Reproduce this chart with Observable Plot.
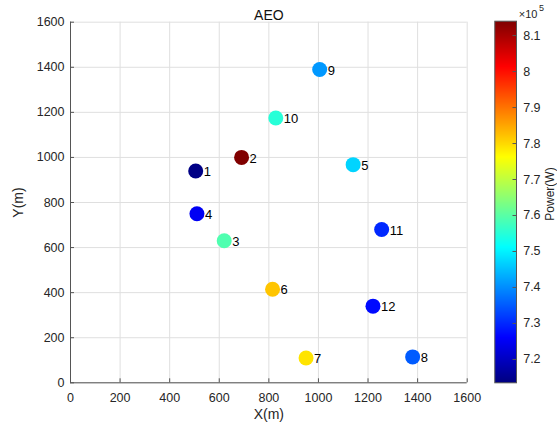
<!DOCTYPE html>
<html><head><meta charset="utf-8">
<script src="https://cdn.jsdelivr.net/npm/d3@7"></script>
<script src="https://cdn.jsdelivr.net/npm/@observablehq/plot@0.6"></script>
<style>
body{margin:0;background:#fff;}
#wrap{position:relative;width:557px;height:434px;font-family:"Liberation Sans",Arial,sans-serif;}
#wrap svg{position:absolute;left:0;top:0;overflow:visible;}
</style></head><body><div id="wrap"></div>
<script>
// ---- data ----
const ids = [1, 2, 3, 4, 5, 6, 7, 8, 9, 10, 11, 12];
const xs = [505, 690, 620, 510, 1140, 815, 950, 1380, 1005, 828, 1255, 1220];
const ys = [940, 1000, 630, 750, 968, 415, 110, 115, 1390, 1175, 680, 340];
const power = [7.14e5, 8.14e5, 7.59e5, 7.25e5, 7.47e5, 7.82e5, 7.79e5, 7.35e5, 7.41e5, 7.55e5, 7.30e5, 7.27e5];
const axisTicks = [0, 200, 400, 600, 800, 1000, 1200, 1400, 1600];
const colorTicks = [7.2e5, 7.3e5, 7.4e5, 7.5e5, 7.6e5, 7.7e5, 7.8e5, 7.9e5, 8.0e5, 8.1e5];
const powerRange = [7.135e5, 8.14e5];
const titleText = "AEO";
const xLabel = "X(m)";
const yLabel = "Y(m)";
const cbLabel = "Power(W)";

// MATLAB jet colormap
function jet(t) {
  const c = v => Math.max(0, Math.min(1, v));
  const r = c(Math.min(4 * t - 1.5, -4 * t + 4.5));
  const g = c(Math.min(4 * t - 0.5, -4 * t + 3.5));
  const b = c(Math.min(4 * t + 0.5, -4 * t + 2.5));
  return `rgb(${Math.round(r * 255)},${Math.round(g * 255)},${Math.round(b * 255)})`;
}

const data = ids.map((id, i) => ({id, x: xs[i], y: ys[i], p: power[i]}));

const W = 557, H = 434;
const mL = 70, mR = 90.3, mT = 21.7, mB = 51.7;
const frameW = W - mL - mR, frameH = H - mT - mB;
const axisColor = "#262626";
const lineColor = "#555";
const font = "'Liberation Sans', Arial, sans-serif";

const main = Plot.plot({
  width: W, height: H,
  marginLeft: mL, marginRight: mR, marginTop: mT, marginBottom: mB,
  style: {fontFamily: font, fontSize: "12.5px", color: axisColor, background: "transparent", overflow: "visible"},
  x: {domain: [0, 1600], label: null},
  y: {domain: [0, 1600], label: null},
  color: {type: "linear", domain: powerRange, interpolate: jet},
  marks: [
    Plot.gridX(axisTicks, {stroke: "#dfdfdf", strokeOpacity: 1}),
    Plot.gridY(axisTicks, {stroke: "#dfdfdf", strokeOpacity: 1}),
    Plot.ruleX([0], {stroke: lineColor}),
    Plot.ruleY([0], {stroke: lineColor}),
    Plot.tickX(axisTicks, {x: d => d, insetTop: frameH - 4, stroke: lineColor}),
    Plot.tickY(axisTicks, {y: d => d, insetRight: frameW - 4, stroke: lineColor}),
    Plot.axisX(axisTicks, {tickSize: 0, tickPadding: 10.5, label: null, fill: axisColor, fontSize: 12.5, tickFormat: d => String(d)}),
    Plot.axisY(axisTicks, {tickSize: 0, tickPadding: 6, label: null, fill: axisColor, fontSize: 12.5, tickFormat: d => String(d)}),
    Plot.dot(data, {x: "x", y: "y", fill: "p", r: 7.5}),
    Plot.text(data, {x: "x", y: "y", text: "id", textAnchor: "start", dx: 8, dy: 1, fontSize: 13, fill: "#000"}),
    Plot.text([titleText], {frameAnchor: "top", dy: -11.7, fontSize: 14, fill: "#111"}),
    Plot.text([xLabel], {frameAnchor: "bottom", dy: 35.7, fontSize: 14, fill: axisColor}),
    Plot.text([yLabel], {frameAnchor: "left", textAnchor: "middle", dx: -52, rotate: -90, fontSize: 14, fill: axisColor})
  ]
});

const cbL = 494.3, cbR = 516, cbT = 20.7, cbB = 382.3;
const cbW = cbR - cbL;
const cb = Plot.plot({
  width: W, height: H,
  marginLeft: cbL, marginRight: W - cbR, marginTop: cbT, marginBottom: H - cbB,
  style: {fontFamily: font, fontSize: "12.5px", color: axisColor, background: "transparent", overflow: "visible"},
  x: {domain: [0, 1], axis: null},
  y: {domain: powerRange, axis: null},
  color: {type: "linear", domain: powerRange, interpolate: jet},
  marks: [
    Plot.raster({fill: (x, y) => y, x1: 0, x2: 1, y1: powerRange[0], y2: powerRange[1], width: 2, height: 362, imageRendering: "auto"}),
    Plot.frame({stroke: lineColor}),
    Plot.tickY(colorTicks, {y: d => d, insetLeft: cbW - 3.5, stroke: lineColor}),
    Plot.axisY(colorTicks, {anchor: "right", tickSize: 0, tickPadding: 6.7, label: null, fill: axisColor, fontSize: 12.5,
      tickFormat: d => String(+(d / 1e5).toFixed(1))}),
    Plot.text([cbLabel], {frameAnchor: "right", textAnchor: "middle", dx: 550 - cbR, dy: -8, rotate: -90, fontSize: 12, fill: axisColor}),
    Plot.text(["×10"], {frameAnchor: "top-left", textAnchor: "start", dx: 518.3 - cbL, dy: 9.5 - cbT, fontSize: 11, fill: axisColor}),
    Plot.text(["5"], {frameAnchor: "top-left", textAnchor: "start", dx: 538.5 - cbL, dy: 4 - cbT, fontSize: 9, fill: axisColor})
  ]
});

const wrap = document.getElementById("wrap");
wrap.appendChild(main);
wrap.appendChild(cb);
</script>
</body></html>
